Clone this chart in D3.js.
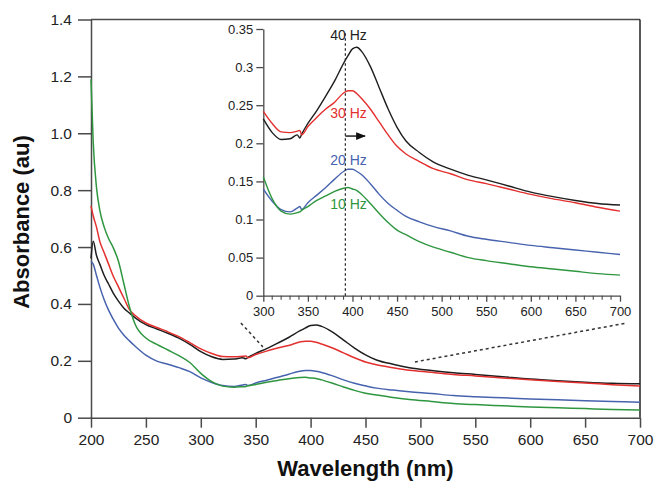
<!DOCTYPE html>
<html><head><meta charset="utf-8">
<script src="https://cdn.jsdelivr.net/npm/d3@7"></script>
<style>
body{margin:0;background:#fff}
svg{display:block}
text{font-family:"Liberation Sans",Arial,Helvetica,sans-serif}
</style>
</head><body>
<svg id="chart" width="665" height="495"></svg>
<script>
// ---- data ----
const wavelengths = [200,202,205,208,212,216,220,225,230,235,240,250,260,270,280,290,300,310,320,330,338,341,343,350,360,370,380,390,395,400,405,410,420,430,440,450,460,475,490,510,530,550,575,600,625,650,675,700];
const hz40 = [0.56,0.62,0.57,0.54,0.50,0.47,0.44,0.41,0.385,0.368,0.352,0.327,0.312,0.297,0.280,0.258,0.232,0.214,0.205,0.206,0.211,0.207,0.212,0.226,0.243,0.262,0.282,0.305,0.315,0.324,0.326,0.321,0.301,0.273,0.245,0.221,0.203,0.188,0.176,0.166,0.158,0.152,0.144,0.136,0.130,0.125,0.121,0.119];
const hz30 = [0.745,0.71,0.67,0.62,0.58,0.54,0.50,0.46,0.42,0.38,0.36,0.333,0.317,0.302,0.285,0.264,0.242,0.226,0.215,0.214,0.216,0.217,0.211,0.222,0.234,0.245,0.254,0.266,0.269,0.269,0.265,0.259,0.245,0.228,0.211,0.196,0.186,0.176,0.167,0.160,0.152,0.147,0.140,0.133,0.127,0.122,0.116,0.111];
const hz20 = [0.55,0.54,0.50,0.46,0.415,0.378,0.348,0.315,0.29,0.27,0.252,0.22,0.199,0.188,0.176,0.162,0.140,0.124,0.113,0.110,0.115,0.117,0.113,0.122,0.132,0.142,0.153,0.163,0.166,0.166,0.163,0.159,0.147,0.133,0.121,0.112,0.104,0.097,0.091,0.085,0.078,0.074,0.070,0.066,0.063,0.060,0.057,0.054];
const hz10 = [1.19,0.97,0.81,0.73,0.67,0.63,0.60,0.55,0.47,0.39,0.33,0.28,0.258,0.238,0.218,0.194,0.156,0.127,0.111,0.107,0.109,0.110,0.112,0.117,0.125,0.131,0.137,0.141,0.142,0.140,0.138,0.133,0.121,0.108,0.096,0.086,0.080,0.071,0.064,0.057,0.050,0.046,0.042,0.038,0.035,0.032,0.029,0.027];
const seriesNames = ["40 Hz","30 Hz","20 Hz","10 Hz"];
const seriesValues = [hz40, hz30, hz20, hz10];
const seriesColors = ["#1e1e1e","#e3302f","#4763ae","#2f9640"];
const labelValues = [0.341, 0.238, 0.177, 0.119]; // inset label vertical positions (data units)
const mainXTicks = [200,250,300,350,400,450,500,550,600,650,700];
const mainYTicks = [0,0.2,0.4,0.6,0.8,1.0,1.2,1.4];
const insetXTicks = [300,350,400,450,500,550,600,650,700];
const insetYTicks = [0,0.05,0.1,0.15,0.2,0.25,0.3,0.35];
const peakMarker = 392;          // dashed vertical line (nm)
const arrowSpan = [392, 414];    // red-shift arrow (nm)
const arrowLevel = 0.2095;
// zoom guide lines in main-chart data units
const guideLines = [
  [[336.5,0.333],[356.5,0.249]],
  [[495,0.196],[688,0.333]]
];

// ---- layout ----
const svg = d3.select("#chart");
const x = d3.scaleLinear().domain([200,700]).range([91,640]);
const y = d3.scaleLinear().domain([0,1.4]).range([417.7,19.5]);
const ix = d3.scaleLinear().domain([300,700]).range([263.3,620]);
const iy = d3.scaleLinear().domain([0,0.35]).range([295.7,29]);
const axisCol = "#4a4a4a";

const rows = seriesValues.map(vals => wavelengths.map((w,i)=>({w, v: vals[i]})));

// main frame (top & right)
svg.append("line").attr("x1",x(200)).attr("x2",x(700)).attr("y1",y(1.4)).attr("y2",y(1.4))
  .attr("stroke",axisCol).attr("stroke-width",1.5);
svg.append("line").attr("x1",x(700)).attr("x2",x(700)).attr("y1",y(1.4)).attr("y2",y(0))
  .attr("stroke","#222").attr("stroke-width",1.5);

// main axes
const gx = svg.append("g").attr("transform",`translate(0,${y(0)})`)
  .call(d3.axisBottom(x).tickValues(mainXTicks).tickSize(10).tickPadding(6).tickSizeOuter(0).tickFormat(d3.format("d")));
const gy = svg.append("g").attr("transform",`translate(${x(200)},0)`)
  .call(d3.axisLeft(y).tickValues(mainYTicks).tickSize(13).tickPadding(6).tickSizeOuter(0)
    .tickFormat(d => d===0 ? "0" : d3.format(".1f")(d)));
[gx,gy].forEach(g=>{
  g.select(".domain").attr("stroke",axisCol).attr("stroke-width",1.5);
  g.selectAll(".tick line").attr("stroke",axisCol).attr("stroke-width",1.5);
  g.selectAll(".tick text").attr("font-size",15.5).attr("fill","#222")
    .style("font-family","'Liberation Sans',Arial,sans-serif");
});
gx.selectAll(".tick text").attr("dy","0.75em");

// axis titles
svg.append("text").attr("x",365.5).attr("y",476).attr("text-anchor","middle")
  .attr("font-size",22).attr("font-weight","bold").attr("fill","#111").text("Wavelength (nm)");
svg.append("text").attr("transform","translate(29,222) rotate(-90)").attr("text-anchor","middle")
  .attr("font-size",22).attr("font-weight","bold").attr("fill","#111").text("Absorbance (au)");

// main curves
const mainLine = d3.line().x(d=>x(d.w)).y(d=>y(d.v)).curve(d3.curveMonotoneX);
rows.forEach((r,i)=>{
  svg.append("path").datum(r).attr("d",mainLine).attr("fill","none")
    .attr("stroke",seriesColors[i]).attr("stroke-width",1.5).attr("stroke-linejoin","round");
});

// guide lines
guideLines.forEach(g=>{
  svg.append("line").attr("x1",x(g[0][0])).attr("y1",y(g[0][1])).attr("x2",x(g[1][0])).attr("y2",y(g[1][1]))
    .attr("stroke","#333").attr("stroke-width",1.5).attr("stroke-dasharray","3,3");
});

// ---- inset ----
const ins = svg.append("g");
const igx = ins.append("g").attr("transform",`translate(0,${iy(0)})`)
  .call(d3.axisBottom(ix).tickValues(insetXTicks).tickSize(6).tickPadding(5).tickSizeOuter(0).tickFormat(d3.format("d")));
// minor ticks
ins.append("g").selectAll("line").data(d3.range(310,700,10).filter(v=>v%50!==0)).join("line")
  .attr("x1",d=>ix(d)).attr("x2",d=>ix(d)).attr("y1",iy(0)).attr("y2",iy(0)+4)
  .attr("stroke",axisCol).attr("stroke-width",1.1);
const igy = ins.append("g").attr("transform",`translate(${ix(300)},0)`)
  .call(d3.axisLeft(iy).tickValues(insetYTicks).tickSize(7).tickPadding(3).tickSizeOuter(0).tickFormat(d=>String(+d.toFixed(2))));
[igx,igy].forEach(g=>{
  g.select(".domain").attr("stroke",axisCol).attr("stroke-width",1.3);
  g.selectAll(".tick line").attr("stroke",axisCol).attr("stroke-width",1.3);
  g.selectAll(".tick text").attr("font-size",13).attr("fill","#222")
    .style("font-family","'Liberation Sans',Arial,sans-serif");
});

const insetLine = d3.line().x(d=>ix(d.w)).y(d=>iy(d.v)).curve(d3.curveMonotoneX);
rows.forEach((r,i)=>{
  ins.append("path").datum(r.filter(d=>d.w>=300)).attr("d",insetLine).attr("fill","none")
    .attr("stroke",seriesColors[i]).attr("stroke-width",1.4).attr("stroke-linejoin","round");
});

// dashed marker line
ins.append("line").attr("x1",ix(peakMarker)).attr("x2",ix(peakMarker)).attr("y1",iy(0)).attr("y2",iy(0.346))
  .attr("stroke","#222").attr("stroke-width",1.2).attr("stroke-dasharray","2.5,2.5");

// arrow
svg.append("defs").append("marker").attr("id","ah").attr("viewBox","0 0 10 10").attr("refX",9).attr("refY",5)
  .attr("markerWidth",7).attr("markerHeight",7).attr("orient","auto")
  .append("path").attr("d","M0,1 L10,5 L0,9 Z").attr("fill","#111");
ins.append("line").attr("x1",ix(arrowSpan[0])).attr("x2",ix(arrowSpan[1])).attr("y1",iy(arrowLevel)).attr("y2",iy(arrowLevel))
  .attr("stroke","#111").attr("stroke-width",1.4).attr("marker-end","url(#ah)");

// series labels
seriesNames.forEach((n,i)=>{
  ins.append("text").attr("x",ix(395.5)).attr("y",iy(labelValues[i])).attr("text-anchor","middle")
    .attr("dominant-baseline","middle").attr("font-size",14).attr("fill",seriesColors[i]).text(n);
});
</script>
</body></html>
